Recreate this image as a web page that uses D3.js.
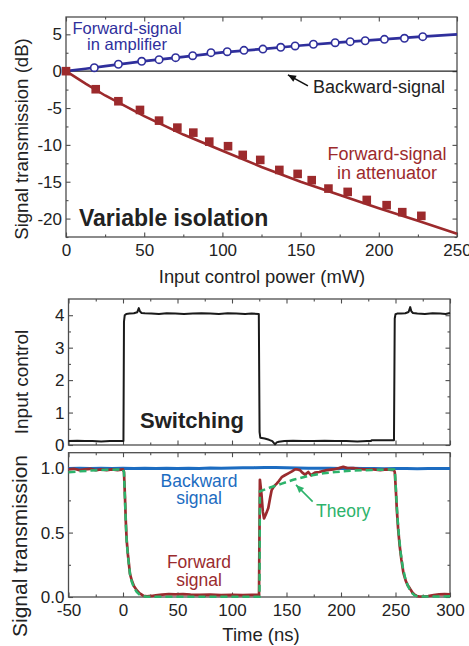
<!DOCTYPE html>
<html>
<head>
<meta charset="utf-8">
<style>
    body { margin: 0; background: #fff; }
    svg { display: block; font-family: 'Liberation Sans', Arial, sans-serif; }
</style>
</head>
<body>
<svg width="469" height="646"></svg>

<script src="https://d3js.org/d3.v7.min.js"></script>
<script>
// ---- top panel: transmission vs control power ----
let ampPower = [18.1, 33.5, 48.4, 59.5, 70.1, 81.0, 92.7, 103.1, 113.8, 125.9, 137.3, 146.5, 158.2, 172.1, 181.7, 191.3, 203.6, 216.4, 228.1]
let ampDb = [0.47, 0.94, 1.34, 1.56, 1.83, 2.1, 2.51, 2.64, 2.83, 3.0, 3.24, 3.42, 3.65, 3.86, 4.0, 4.13, 4.32, 4.46, 4.68]
let attPower = [0, 19, 33.5, 47.3, 59.5, 71.2, 81.4, 91.6, 103.6, 113, 124.2, 136.4, 148.1, 157.1, 167.8, 180.1, 192.3, 205, 215, 227.2]
let attDb = [0, -2.45, -4.08, -5.26, -6.71, -7.66, -8.34, -9.56, -10.18, -11.36, -12.04, -13.4, -13.94, -14.79, -15.93, -16.38, -17.47, -18.18, -19.13, -19.63]
let fitPower = [0, 12.5, 25, 50, 75, 100, 125, 150, 175, 200, 225, 250]
let ampFit = [0, 0.33, 0.68, 1.36, 1.95, 2.55, 3.0, 3.48, 3.9, 4.28, 4.65, 5.0]
let attFit = [0, -1.7, -3.3, -6.1, -8.6, -10.8, -13.0, -15.0, -16.8, -18.6, -20.3, -22.05]
let powerTicks = [0, 50, 100, 150, 200, 250]
let dbTicks = [-20, -15, -10, -5, 0, 5]

// ---- middle panel: control pulse, [time ns, value] ----
let ctrlTrace = [[-50,0.12],[-42,0.13],[-35,0.12],[-28,0.12],[-20,0.11],[-12,0.12],[-5,0.12],[0.4,0.12],[0.9,3.8],[1.6,4.0],[3,4.04],[6,4.05],[10,4.06],[13,4.09],[14.5,4.22],[15.5,4.12],[17,4.07],[20,4.06],[26,4.05],[33,4.04],[40,4.06],[48,4.05],[56,4.04],[64,4.05],[72,4.06],[80,4.05],[88,4.04],[96,4.06],[104,4.05],[112,4.04],[118,4.05],[124.6,4.04],[125.3,0.4],[126,0.22],[130,0.2],[134,0.16],[137,0.12],[138.5,0.06],[139.5,0.02],[141,0.08],[143,0.1],[148,0.12],[156,0.13],[165,0.12],[175,0.12],[185,0.13],[195,0.12],[205,0.12],[215,0.11],[224,0.12],[227.5,0.12],[228,0.15],[235,0.15],[242,0.15],[248.6,0.15],[249.3,3.9],[250,4.03],[251.5,4.05],[255,4.05],[259,4.06],[262,4.1],[263.5,4.25],[264.5,4.12],[266,4.07],[270,4.05],[277,4.04],[284,4.06],[291,4.05],[296,4.04],[300,4.07]]
let ctrlTicks = [0, 1, 2, 3, 4]

// ---- bottom panel: signal transmission, [time ns, value] ----
let backTrace = [[-50,0.998],[-40,1.0],[-30,0.997],[-20,0.999],[-10,0.997],[0,0.999],[10,0.998],[20,1.0],[30,0.997],[40,0.999],[50,0.998],[60,1.0],[70,0.998],[80,1.001],[90,0.999],[100,1.002],[110,1.003],[120,1.004],[130,1.006],[140,1.005],[150,1.004],[160,1.002],[170,1.0],[180,0.999],[190,1.0],[200,0.998],[210,0.999],[220,0.997],[230,0.998],[240,0.996],[250,0.997],[260,0.998],[270,0.996],[280,0.998],[290,0.997],[300,0.998]]
let fwdTrace = [[-50,0.99],[-45,0.995],[-40,0.985],[-35,0.99],[-30,0.995],[-25,0.985],[-20,0.99],[-15,0.985],[-10,0.99],[-5,0.985],[0,0.99],[0.9,0.97],[1.8,0.78],[2.6,0.58],[3.4,0.44],[4.5,0.33],[6.4,0.18],[8,0.13],[10,0.085],[12.6,0.053],[15,0.03],[18.6,0.01],[22,0.005],[26,0.008],[30,0.012],[36,0.018],[42,0.022],[48,0.02],[55,0.022],[62,0.018],[70,0.016],[80,0.018],[90,0.015],[100,0.016],[110,0.015],[118,0.016],[124.8,0.016],[125.2,0.5],[125.6,0.91],[127,0.8],[128.3,0.66],[129.4,0.61],[131,0.64],[133.3,0.69],[135,0.77],[136.4,0.83],[138.5,0.86],[141,0.88],[143,0.9],[145.6,0.93],[148.5,0.945],[151.7,0.96],[155,0.975],[157.8,0.99],[160,0.99],[162.4,0.985],[164.5,0.965],[167,0.95],[170,0.97],[172.5,0.945],[176.1,0.965],[180,0.97],[186.9,0.985],[193,0.99],[198,1.0],[202.1,1.01],[206,1.0],[211.3,1.0],[216,0.995],[222,0.99],[229.6,0.99],[236,0.985],[242,0.99],[248.5,0.985],[249.3,0.97],[250.2,0.85],[251.2,0.68],[252.4,0.53],[253.8,0.4],[255.4,0.29],[257.2,0.19],[259.2,0.13],[261.2,0.09],[263.3,0.065],[265.5,0.035],[267.5,0.018],[269.5,0.008],[272,0.004],[276,0.004],[280,0.008],[285,0.015],[290,0.02],[295,0.022],[300,0.02]]
let theoryTrace = [[-50,0.968],[-40,0.975],[-30,0.981],[-20,0.985],[-10,0.988],[0,0.99],[0.9,0.97],[1.8,0.76],[2.6,0.57],[3.4,0.43],[4.5,0.32],[6.4,0.18],[8,0.12],[10,0.075],[12.6,0.04],[15,0.02],[18.6,0.006],[22,0.002],[40,0.002],[80,0.002],[125.2,0.002],[125.6,0.82],[135,0.85],[145.7,0.88],[156.2,0.91],[170,0.94],[183.8,0.96],[195,0.97],[208.3,0.98],[228,0.986],[248.8,0.99],[249.6,0.96],[250.6,0.8],[251.8,0.62],[253.2,0.47],[254.8,0.34],[256.7,0.23],[258.8,0.15],[261,0.095],[263.2,0.055],[265.5,0.028],[268,0.01],[271,0.004],[285,0.004],[300,0.005]]
let timeTicks = [-50, 0, 50, 100, 150, 200, 250, 300]
let transTicks = [0, 0.5, 1.0]

let svg = d3.select("svg")
let frameColor = "#4d4d4d"
let textColor = "#222"

// scales
let xP = d3.scaleLinear().domain([0, 250]).range([66, 457])
let yP = d3.scaleLinear().domain([-22.5, 7.35]).range([237, 17])
let xT = d3.scaleLinear().domain([-50, 300]).range([68.5, 450])
let yC = d3.scaleLinear().domain([0, 4.5]).range([445, 299])
let yS = d3.scaleLinear().domain([0, 1.12]).range([597, 452.7])

// draws frame + inward ticks on all four sides
function drawFrame(x, y, xMajor, xMinor, yMajor, yMinor, xFmt, yFmt) {
    let g = svg.append("g")
    let [x0, x1] = x.range()
    let [y0, y1] = y.range()
    let style = sel => {
        sel.select(".domain").remove()
        sel.selectAll("line").attr("stroke", frameColor).attr("stroke-width", 1.1)
        sel.selectAll("text").attr("fill", textColor).style("font-size", "17px")
            .style("font-family", "'Liberation Sans', Arial, sans-serif")
        sel.attr("font-size", null).attr("font-family", null)
    }
    // bottom
    g.append("g").attr("transform", `translate(0,${y0})`)
        .call(d3.axisBottom(x).tickValues(xMajor).tickSizeInner(-4.5).tickSizeOuter(0).tickPadding(7).tickFormat(xFmt)).call(style)
    g.append("g").attr("transform", `translate(0,${y0})`)
        .call(d3.axisBottom(x).tickValues(xMinor).tickSizeInner(-2.5).tickSizeOuter(0).tickFormat("")).call(style)
    // top
    g.append("g").attr("transform", `translate(0,${y1})`)
        .call(d3.axisTop(x).tickValues(xMajor).tickSizeInner(-4.5).tickSizeOuter(0).tickFormat("")).call(style)
    g.append("g").attr("transform", `translate(0,${y1})`)
        .call(d3.axisTop(x).tickValues(xMinor).tickSizeInner(-2.5).tickSizeOuter(0).tickFormat("")).call(style)
    // left
    g.append("g").attr("transform", `translate(${x0},0)`)
        .call(d3.axisLeft(y).tickValues(yMajor).tickSizeInner(-4.5).tickSizeOuter(0).tickPadding(4).tickFormat(yFmt)).call(style)
    g.append("g").attr("transform", `translate(${x0},0)`)
        .call(d3.axisLeft(y).tickValues(yMinor).tickSizeInner(-2.5).tickSizeOuter(0).tickFormat("")).call(style)
    // right
    g.append("g").attr("transform", `translate(${x1},0)`)
        .call(d3.axisRight(y).tickValues(yMajor).tickSizeInner(-4.5).tickSizeOuter(0).tickFormat("")).call(style)
    g.append("g").attr("transform", `translate(${x1},0)`)
        .call(d3.axisRight(y).tickValues(yMinor).tickSizeInner(-2.5).tickSizeOuter(0).tickFormat("")).call(style)
    g.append("rect")
        .attr("x", x0).attr("y", y1)
        .attr("width", x1 - x0).attr("height", y0 - y1)
        .attr("fill", "none").attr("stroke", frameColor).attr("stroke-width", 1.3)
    return g
}

function label(x, y, txt, opts) {
    opts = opts || {}
    return svg.append("text")
        .attr("x", x).attr("y", y)
        .attr("text-anchor", opts.anchor || "start")
        .attr("fill", opts.color || textColor)
        .style("font-size", (opts.size || 17) + "px")
        .style("font-weight", opts.bold ? "bold" : "normal")
        .text(txt)
}

function yTitle(cx, cy, txt, size) {
    svg.append("text")
        .attr("transform", `translate(${cx},${cy}) rotate(-90)`)
        .attr("text-anchor", "middle")
        .attr("dy", "0.35em")
        .attr("fill", textColor)
        .style("font-size", size + "px")
        .text(txt)
}

function arrow(x1, y1, x2, y2, color) {
    svg.append("line")
        .attr("x1", x1).attr("y1", y1).attr("x2", x2).attr("y2", y2)
        .attr("stroke", color).attr("stroke-width", 1.6)
    let a = Math.atan2(y2 - y1, x2 - x1)
    let L = 8, w = 3.5
    let bx = x2 - L * Math.cos(a), by = y2 - L * Math.sin(a)
    let pts = [[x2, y2], [bx + w * Math.sin(a), by - w * Math.cos(a)], [bx - w * Math.sin(a), by + w * Math.cos(a)]]
    svg.append("polygon").attr("points", pts.map(p => p.join(",")).join(" ")).attr("fill", color)
}

let plain = d => String(d)
let none = () => ""

// ================= TOP PANEL =================
let topBlue = "#2f2f9c"
let topRed = "#9c2a2c"

drawFrame(xP, yP, powerTicks, d3.range(25, 250, 50), dbTicks, [-22.5, -17.5, -12.5, -7.5, -2.5, 2.5], plain, plain)

// backward-signal reference line at 0 dB
svg.append("line")
    .attr("x1", xP(0)).attr("x2", xP(250))
    .attr("y1", yP(0)).attr("y2", yP(0))
    .attr("stroke", "#222").attr("stroke-width", 1.3)

let lineP = d3.line().x(d => xP(d[0])).y(d => yP(d[1]))
svg.append("path")
    .attr("d", lineP(d3.zip(fitPower, ampFit)))
    .attr("fill", "none").attr("stroke", topBlue).attr("stroke-width", 2.7)
svg.append("path")
    .attr("d", lineP(d3.zip(fitPower, attFit)))
    .attr("fill", "none").attr("stroke", topRed).attr("stroke-width", 2.6)

svg.selectAll(".amp")
    .data(d3.zip(ampPower, ampDb))
    .enter().append("circle")
    .attr("cx", d => xP(d[0])).attr("cy", d => yP(d[1]))
    .attr("r", 3.7)
    .attr("fill", "#fff").attr("stroke", topBlue).attr("stroke-width", 1.6)

let sq = 8.6
svg.selectAll(".att")
    .data(d3.zip(attPower, attDb))
    .enter().append("rect")
    .attr("x", d => xP(d[0]) - sq / 2).attr("y", d => yP(d[1]) - sq / 2)
    .attr("width", sq).attr("height", sq)
    .attr("fill", topRed)

label(127, 34, "Forward-signal", { anchor: "middle", color: topBlue, size: 16.5 })
label(127, 50, "in amplifier", { anchor: "middle", color: topBlue, size: 16.5 })
label(313, 93, "Backward-signal", { size: 18 })
arrow(xP(154.7), yP(-2.0), xP(141.9), yP(-0.5), "#111")
label(387, 160, "Forward-signal", { anchor: "middle", color: topRed, size: 18 })
label(387, 179, "in attenuator", { anchor: "middle", color: topRed, size: 18 })
label(79, 226, "Variable isolation", { bold: true, size: 23 })

yTitle(21.5, 139, "Signal transmission (dB)", 18.6)
label(262, 283, "Input control power (mW)", { anchor: "middle", size: 18.4 })

// ================= MIDDLE PANEL =================
let tMinor = d3.range(-25, 300, 50)
drawFrame(xT, yC, timeTicks, tMinor, ctrlTicks, [0.5, 1.5, 2.5, 3.5], none, plain)

let lineC = d3.line().x(d => xT(d[0])).y(d => yC(d[1]))
svg.append("path")
    .attr("d", lineC(ctrlTrace))
    .attr("fill", "none").attr("stroke", "#1a1a1a").attr("stroke-width", 2).attr("stroke-linejoin", "round")

label(140, 428, "Switching", { bold: true, size: 22 })
yTitle(21, 382, "Input control", 19)

// ================= BOTTOM PANEL =================
let botBlue = "#1c6cc1"
let botRed = "#9a2b2e"
let botGreen = "#2db36b"

drawFrame(xT, yS, timeTicks, tMinor, transTicks, [0.25, 0.75], plain, d3.format(".1f"))

let lineS = d3.line().x(d => xT(d[0])).y(d => yS(d[1]))
svg.append("path")
    .attr("d", lineS(backTrace))
    .attr("fill", "none").attr("stroke", botBlue).attr("stroke-width", 3)
svg.append("path")
    .attr("d", lineS(fwdTrace))
    .attr("fill", "none").attr("stroke", botRed).attr("stroke-width", 2.7).attr("stroke-linejoin", "round")
svg.append("path")
    .attr("d", lineS(theoryTrace))
    .attr("fill", "none").attr("stroke", botGreen).attr("stroke-width", 2.5)
    .attr("stroke-dasharray", "7,4")

label(199, 487, "Backward", { anchor: "middle", color: botBlue, size: 17.5 })
label(199, 504, "signal", { anchor: "middle", color: botBlue, size: 17.5 })
label(199, 568, "Forward", { anchor: "middle", color: botRed, size: 17.5 })
label(199, 586, "signal", { anchor: "middle", color: botRed, size: 17.5 })
label(316, 517, "Theory", { color: botGreen, size: 17.5 })
arrow(xT(174), yS(0.74), xT(158.7), yS(0.87), botGreen)

yTitle(20, 546, "Signal transmission", 21)
label(261, 641, "Time (ns)", { anchor: "middle", size: 18.5 })
</script>
</body>
</html>
